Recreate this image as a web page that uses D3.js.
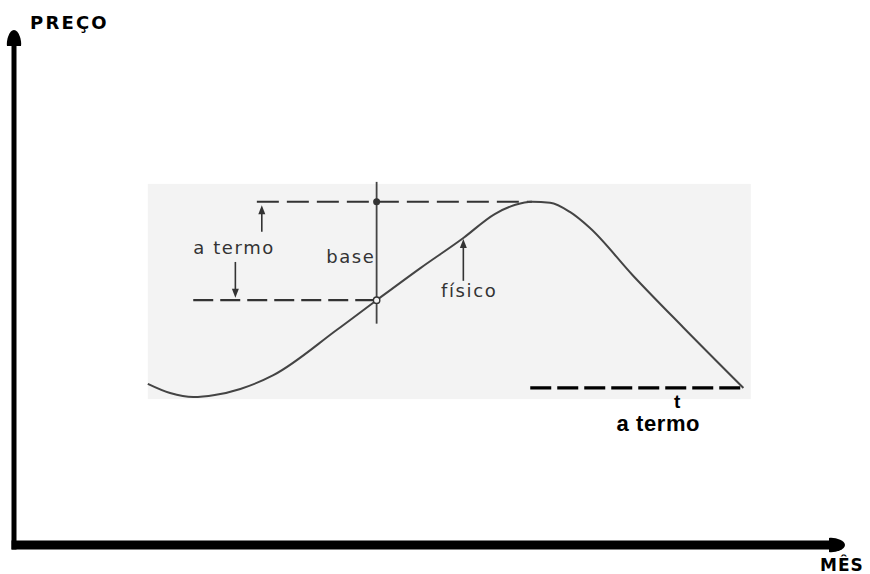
<!DOCTYPE html>
<html>
<head>
<meta charset="utf-8">
<script src="https://cdn.jsdelivr.net/npm/d3@7"></script>
<style>
  body { margin: 0; background: #fff; }
  svg { display: block; }
</style>
</head>
<body>
<div id="chart"></div>
<script>
// curve of the physical price (x = mês, y = preço, 0..100 units)
const mes = [16.2, 18.9, 21.7, 24.3, 27.4, 31.4, 39.1, 43.9, 49.2, 54.4, 58.2, 60.7, 62.7, 64.9, 67.3, 69.7, 74.9, 81.0, 88.3];
const fisico = [31.6, 29.8, 29.0, 29.4, 30.6, 33.3, 42.2, 48.0, 54.3, 60.2, 64.9, 66.7, 67.3, 67.1, 65.3, 62.2, 52.9, 42.7, 30.8];

// reference levels
const termoLevel = 67.3;     // forward price at time of hedge
const fisicoLevel = 48.0;    // physical price at time of hedge
const hedgeMes = 43.9;       // month of hedge
const termoFinal = 30.8;     // forward price at t
const termoStart = 29.4, termoEnd = 62.7;
const fisicoStart = 21.7;
const finalStart = 62.5, finalEnd = 88.3;

function main() {
    const width = 870, height = 574;

    const svg = d3.select("#chart").append("svg")
        .attr("width", width)
        .attr("height", height);

    const x = d3.scaleLinear().domain([0, 100]).range([14, 840]);
    const y = d3.scaleLinear().domain([0, 100]).range([545, 35]);

    // light panel behind the figure
    svg.append("rect")
        .attr("x", x(16.2)).attr("y", y(70.8))
        .attr("width", x(89.2) - x(16.2))
        .attr("height", y(28.6) - y(70.8))
        .attr("fill", "#f3f3f3");

    const g = svg.append("g");

    // dashed levels
    const dashed = (x1, x2, yy, color, w, dash) => g.append("line")
        .attr("x1", x(x1)).attr("x2", x(x2))
        .attr("y1", y(yy)).attr("y2", y(yy))
        .attr("stroke", color).attr("stroke-width", w)
        .attr("stroke-dasharray", dash);

    dashed(termoStart, termoEnd, termoLevel, "#333", 2.2, "22,8");
    dashed(fisicoStart, hedgeMes, fisicoLevel, "#333", 2.2, "20,7");
    dashed(finalStart, finalEnd, termoFinal, "#000", 3.2, "21,6");

    // vertical line at the hedge month
    g.append("line")
        .attr("x1", x(hedgeMes)).attr("x2", x(hedgeMes))
        .attr("y1", y(71.2)).attr("y2", y(43.4))
        .attr("stroke", "#444").attr("stroke-width", 1.8);

    // physical price curve
    const pts = mes.map((m, i) => [m, fisico[i]]);
    g.append("path")
        .datum(pts)
        .attr("d", d3.line()
            .x(d => x(d[0]))
            .y(d => y(d[1]))
            .curve(d3.curveMonotoneX))
        .attr("fill", "none")
        .attr("stroke", "#444")
        .attr("stroke-width", 2);

    // markers
    g.append("circle")
        .attr("cx", x(hedgeMes)).attr("cy", y(termoLevel)).attr("r", 3.5)
        .attr("fill", "#333");
    g.append("circle")
        .attr("cx", x(hedgeMes)).attr("cy", y(fisicoLevel)).attr("r", 3.2)
        .attr("fill", "#f3f3f3").attr("stroke", "#333").attr("stroke-width", 1.4);

    // small arrows
    const arrow = (xx, yFrom, yTo) => {
        const tx = x(xx), ty = y(yTo), fy = y(yFrom);
        const dir = ty > fy ? 1 : -1;   // +1 points down on screen
        g.append("line")
            .attr("x1", tx).attr("x2", tx)
            .attr("y1", fy).attr("y2", ty - dir * 6)
            .attr("stroke", "#333").attr("stroke-width", 1.6);
        g.append("path")
            .attr("d", `M${tx},${ty} L${tx - 3.5},${ty - dir * 9} L${tx + 3.5},${ty - dir * 9} Z`)
            .attr("fill", "#333");
    };
    arrow(30.0, 61.4, 66.6);
    arrow(26.8, 55.5, 48.5);
    arrow(54.4, 51.8, 60.0);

    const label = (xx, yy, txt, opts = {}) => g.append("text")
        .attr("x", x(xx)).attr("y", y(yy))
        .attr("font-family", opts.family || "'DejaVu Sans', Helvetica, sans-serif")
        .attr("font-size", opts.size || 18)
        .attr("font-weight", opts.weight || "normal")
        .attr("fill", opts.fill || "#333")
        .attr("text-anchor", opts.anchor || "start")
        .attr("letter-spacing", opts.ls == null ? 1.6 : opts.ls)
        .text(txt);

    label(21.7, 57.1, "a termo");
    label(37.8, 55.3, "base");
    label(51.7, 48.6, "físico");
    label(80.3, 26.9, "t", { family: "'Liberation Sans', Arial, sans-serif", size: 19, weight: "bold", fill: "#000", anchor: "middle", ls: 0 });
    label(78.0, 22.4, "a termo", { family: "'Liberation Sans', Arial, sans-serif", size: 22, weight: "bold", fill: "#000", anchor: "middle", ls: 0.6 });

    // axes
    const ax = svg.append("g");
    ax.append("line")
        .attr("x1", x(0)).attr("x2", x(0))
        .attr("y1", y(98)).attr("y2", y(-0.9))
        .attr("stroke", "#000").attr("stroke-width", 5);
    ax.append("line")
        .attr("x1", x(-0.3)).attr("x2", x(99))
        .attr("y1", y(0)).attr("y2", y(0))
        .attr("stroke", "#000").attr("stroke-width", 9);

    // arrow heads
    const ux = x(0), uy = y(100);
    ax.append("path")
        .attr("d", `M${ux},${uy - 5} C${ux + 5},${uy - 5} ${ux + 8},${uy + 6} ${ux + 7},${uy + 11} L${ux - 7},${uy + 11} C${ux - 8},${uy + 6} ${ux - 5},${uy - 5} ${ux},${uy - 5} Z`)
        .attr("fill", "#000");
    const rx = x(100), ry = y(0);
    ax.append("path")
        .attr("d", `M${rx + 5},${ry} C${rx + 5},${ry - 5} ${rx - 6},${ry - 8} ${rx - 11},${ry - 7} L${rx - 11},${ry + 7} C${rx - 6},${ry + 8} ${rx + 5},${ry + 5} ${rx + 5},${ry} Z`)
        .attr("fill", "#000");

    svg.append("text")
        .attr("x", 30).attr("y", 29)
        .attr("font-family", "'DejaVu Sans', sans-serif")
        .attr("font-size", 18).attr("font-weight", "bold")
        .attr("letter-spacing", 2.2)
        .text("PREÇO");
    svg.append("text")
        .attr("x", 820).attr("y", 571)
        .attr("font-family", "'DejaVu Sans', sans-serif")
        .attr("font-size", 17).attr("font-weight", "bold")
        .attr("letter-spacing", 1)
        .text("MÊS");
}
main();
</script>
</body>
</html>
